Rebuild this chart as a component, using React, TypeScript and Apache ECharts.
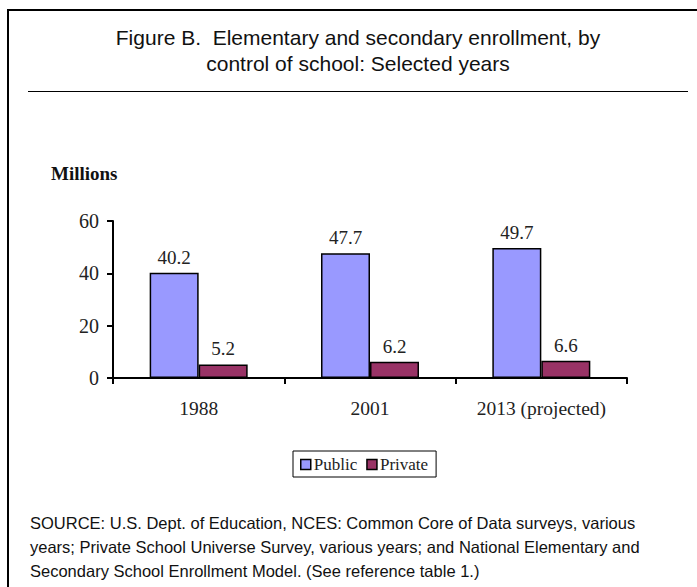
import React, { useEffect, useRef } from "react";
import * as echarts from "echarts";

const categories = ["1988", "2001", "2013 (projected)"];
const publicValues = [40.2, 47.7, 49.7];
const privateValues = [5.2, 6.2, 6.6];
const seriesNames = ["Public", "Private"];
const yTicks = { min: 0, max: 60, interval: 20 };

const titleLines = [
  "Figure B.  Elementary and secondary enrollment, by",
  "control of school: Selected years",
];
const sourceLines = [
  "SOURCE: U.S. Dept. of Education, NCES: Common Core of Data surveys, various",
  "years; Private School Universe Survey, various years; and National Elementary and",
  "Secondary School Enrollment Model. (See reference table 1.)",
];

const SERIF = "'Liberation Serif', 'Times New Roman', serif";
const SANS = "'Liberation Sans', Arial, sans-serif";

export default function App() {
  const ref = useRef<HTMLDivElement>(null);

  useEffect(() => {
    if (!ref.current) return;
    const chart = echarts.init(ref.current, null, { renderer: "svg" });

    const labelStyle = {
      show: true,
      position: "top" as const,
      distance: 6,
      fontFamily: SERIF,
      fontSize: 19,
      color: "#222",
      formatter: (p: any) => Number(p.value).toFixed(1),
    };

    chart.setOption({
      animation: false,
      backgroundColor: "#fff",
      grid: { left: 113, right: 70, top: 221, bottom: 209, containLabel: false },
      legend: {
        left: 293,
        top: 451,
        data: seriesNames,
        orient: "horizontal",
        itemWidth: 10,
        itemHeight: 10,
        itemGap: 9,
        padding: [5, 8, 4, 7],
        borderColor: "#000",
        borderWidth: 1,
        icon: "rect",
        textStyle: { fontFamily: SERIF, fontSize: 17, color: "#222", padding: [0, 0, 0, -2] },
        itemStyle: { borderColor: "#000", borderWidth: 1.5 },
      },
      xAxis: {
        type: "category",
        data: categories,
        axisLine: { lineStyle: { color: "#000", width: 2 } },
        axisTick: { show: true, length: 6, lineStyle: { color: "#000", width: 2 }, alignWithLabel: false },
        axisLabel: {
          interval: 0,
          hideOverlap: false,
          fontFamily: SERIF,
          fontSize: 19.5,
          color: "#222",
          margin: 20,
        },
      },
      yAxis: {
        type: "value",
        min: yTicks.min,
        max: yTicks.max,
        interval: yTicks.interval,
        name: "Millions",
        nameLocation: "end",
        nameGap: 38,
        nameTextStyle: {
          fontFamily: SERIF,
          fontSize: 19,
          fontWeight: "bold",
          color: "#111",
          align: "left",
          padding: [0, 0, 0, -62],
        },
        axisLine: { show: true, lineStyle: { color: "#000", width: 2 } },
        axisTick: { show: true, length: 6, lineStyle: { color: "#000", width: 2 } },
        axisLabel: { fontFamily: SERIF, fontSize: 20, color: "#222", margin: 14 },
        splitLine: { show: false },
      },
      series: [
        {
          name: seriesNames[0],
          type: "bar",
          data: publicValues,
          barWidth: 49,
          barGap: "0%",
          itemStyle: { color: "#9999FF", borderColor: "#000", borderWidth: 1.5 },
          label: labelStyle,
        },
        {
          name: seriesNames[1],
          type: "bar",
          data: privateValues,
          barWidth: 49,
          barGap: "0%",
          itemStyle: { color: "#993366", borderColor: "#000", borderWidth: 1.5 },
          label: labelStyle,
        },
      ],
      graphic: [
        {
          type: "line",
          shape: { x1: 7, y1: 10, x2: 697, y2: 10 },
          style: { stroke: "#000", lineWidth: 2 },
        },
        {
          type: "line",
          shape: { x1: 8, y1: 9, x2: 8, y2: 587 },
          style: { stroke: "#000", lineWidth: 2 },
        },
        {
          type: "line",
          shape: { x1: 28, y1: 91.5, x2: 688, y2: 91.5 },
          style: { stroke: "#000", lineWidth: 1 },
        },
        {
          type: "text",
          x: 358,
          y: 24,
          style: {
            text: titleLines.join("\n"),
            fontFamily: SANS,
            fontSize: 21,
            lineHeight: 26,
            fill: "#111",
            textAlign: "center",
            textVerticalAlign: "top",
          },
        },
        {
          type: "text",
          x: 30,
          y: 511,
          style: {
            text: sourceLines.join("\n"),
            fontFamily: SANS,
            fontSize: 16.5,
            lineHeight: 24,
            fill: "#111",
            textAlign: "left",
            textVerticalAlign: "top",
          },
        },
      ],
    });

    return () => chart.dispose();
  }, []);

  return (
    <div
      ref={ref}
      style={{ position: "absolute", left: 0, top: 0, width: 697, height: 587 }}
    />
  );
}
